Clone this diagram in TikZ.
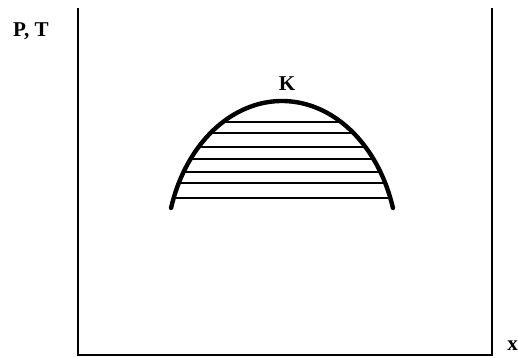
\documentclass[tikz,border=0pt]{standalone}
\usepackage{fontspec}
\setmainfont{Liberation Serif}
\usetikzlibrary{positioning}
\tikzset{
  axisline/.style={draw=black,line width=1.6pt},
  domeline/.style={draw=black,line width=2.5pt},
  tieline/.style={draw=black,line width=0.8pt},
  lbl/.style={font=\bfseries\fontsize{12}{14}\selectfont,inner sep=0pt},
}

\begin{document}
\begin{tikzpicture}[x=0.02cm,y=-0.02cm]
  \useasboundingbox (0,0) rectangle (518,358);

  % Frame: left and right walls, joined at the bottom.
  \coordinate (lt) at (78,8);
  \coordinate (lb) at (78,355);
  \coordinate (rb) at (492,355);
  \coordinate (rt) at (492,8);
  \draw[axisline] (lt) -- (lb) -- (rb) -- (rt);

  \node[lbl] (pt) at (31,31) {P, T};
  \node[lbl,anchor=west] (xl) at (507,346) {x};

  % Tie lines under the dome.
  \foreach \yy in {122,133,147,159,172,183,198} {
    \pgfmathsetmacro{\dx}{115.8*sqrt(1-((251-\yy)/150)^2)}
    \coordinate (a\yy) at (282-\dx,\yy);
    \coordinate (b\yy) at (282+\dx,\yy);
    \draw[tieline] (a\yy) -- (b\yy);
  }

  % Coexistence curve with the critical point on top.
  \draw[domeline,line cap=round] plot[domain=16.66:163.34,samples=60,smooth]
    ({282+115.8*cos(\x)},{251-150*sin(\x)});
  \coordinate (kk) at (282,101);
  \node[lbl] (klab) at (287,84) {K};
\end{tikzpicture}
\end{document}
